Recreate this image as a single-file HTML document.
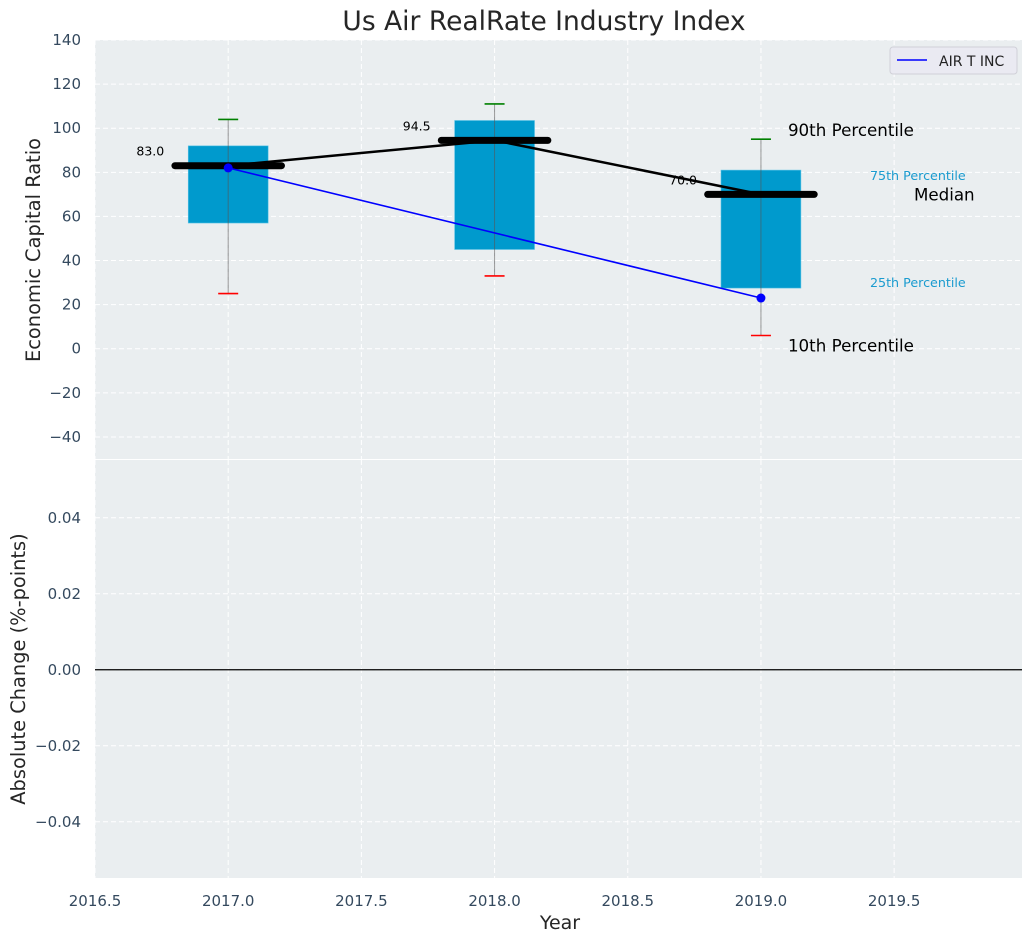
<!DOCTYPE html>
<html><head><meta charset="utf-8"><style>
html,body{margin:0;padding:0;background:#fff;}
svg{display:block;font-family:"DejaVu Sans","Liberation Sans",sans-serif;}
</style></head><body>
<svg id="chart" width="1034" height="942" xmlns="http://www.w3.org/2000/svg"></svg>
<script>
const years = [2017, 2018, 2019];
const p10 = [25, 33, 6];
const q1 = [57, 45, 27.5];
const median = [83, 94.5, 70];
const q3 = [92, 103.5, 81];
const p90 = [104, 111, 95];
const companyYears = [2017, 2019];
const companyValues = [82, 23];
const topTicks = [-40, -20, 0, 20, 40, 60, 80, 100, 120, 140];
const bottomTicks = [-0.04, -0.02, 0.00, 0.02, 0.04];
const xTicks = [2016.5, 2017.0, 2017.5, 2018.0, 2018.5, 2019.0, 2019.5];

const L = 95, R = 1022, T1 = 40, B1 = 459, T2 = 460, B2 = 878;
const X0 = 2016.5, X1 = 2019.98;
const Y1min = -50, Y1max = 140, Y2min = -0.0548, Y2max = 0.0552;
const xs = v => L + (v - X0) / (X1 - X0) * (R - L);
const y1 = v => T1 + (Y1max - v) / (Y1max - Y1min) * (B1 - T1);
const y2 = v => T2 + (Y2max - v) / (Y2max - Y2min) * (B2 - T2);
const svg = document.getElementById('chart');
const NS = 'http://www.w3.org/2000/svg';
function mk(tag, attrs, parent) {
  const e = document.createElementNS(NS, tag);
  for (const k in attrs) e.setAttribute(k, attrs[k]);
  (parent || svg).appendChild(e);
  return e;
}
function txt(s, attrs) { const e = mk('text', attrs); e.textContent = s; return e; }

let e;
e = mk('rect', {x: L, y: T1, width: R - L, height: B1 - T1, fill: '#eaeef0'});


e = mk('rect', {x: L, y: T2, width: R - L, height: B2 - T2, fill: '#eaeef0'});



xTicks.forEach(t => {
  [[T1, B1], [T2, B2]].forEach(([a, b]) => {
    e = mk('line', {x1: xs(t), x2: xs(t), y1: a, y2: b, stroke: '#fff', 'stroke-dasharray': '5,3', 'stroke-width': 1});
    
    
  });
  e = txt(t.toFixed(1), {x: xs(t), y: 906, 'text-anchor': 'middle', 'font-size': 15, fill: '#34495e'});
  
  
});
topTicks.forEach(t => {
  e = mk('line', {x1: L, x2: R, y1: y1(t), y2: y1(t), stroke: '#fff', 'stroke-dasharray': '5,3', 'stroke-width': 1});
  
  
  e = txt(t < 0 ? '\u2212' + Math.abs(t) : String(t), {x: 81, y: y1(t) + 5, 'text-anchor': 'end', 'font-size': 15, fill: '#34495e'});
  
  
});
bottomTicks.forEach(t => {
  e = mk('line', {x1: L, x2: R, y1: y2(t), y2: y2(t), stroke: '#fff', 'stroke-dasharray': '5,3', 'stroke-width': 1});
  
  
  const s = (t < 0 ? '\u2212' : '') + Math.abs(t).toFixed(2);
  e = txt(s, {x: 81, y: y2(t) + 5, 'text-anchor': 'end', 'font-size': 15, fill: '#34495e'});
  
  
});
e = mk('line', {x1: L, x2: R, y1: y2(0), y2: y2(0), stroke: '#000', 'stroke-width': 1.2});



years.forEach((yr, i) => {
  const cx = xs(yr), bw = 0.3 * (R - L) / (X1 - X0);
  e = mk('rect', {x: cx - bw / 2, y: y1(q3[i]), width: bw, height: y1(q1[i]) - y1(q3[i]), fill: '#009ACD', stroke: '#5cc4e6', 'stroke-width': 0.6});
  
  
  e = mk('line', {x1: cx, x2: cx, y1: y1(p90[i]), y2: y1(p10[i]), stroke: '#555', 'stroke-opacity': 0.6, 'stroke-width': 1});
  
  
  e = mk('line', {x1: cx - 10, x2: cx + 10, y1: y1(p90[i]), y2: y1(p90[i]), stroke: 'green', 'stroke-width': 1.6});
  
  
  e = mk('line', {x1: cx - 10, x2: cx + 10, y1: y1(p10[i]), y2: y1(p10[i]), stroke: 'red', 'stroke-width': 1.6});
  
  
});
e = mk('polyline', {points: years.map((y, i) => xs(y) + ',' + y1(median[i])).join(' '), fill: 'none', stroke: '#000', 'stroke-width': 2.5});


years.forEach((yr, i) => {
  const cx = xs(yr), hw = 0.2 * (R - L) / (X1 - X0);
  e = mk('line', {x1: cx - hw, x2: cx + hw, y1: y1(median[i]), y2: y1(median[i]), stroke: '#000', 'stroke-width': 7, 'stroke-linecap': 'round'});
  
  
  e = txt(median[i].toFixed(1), {x: cx - 0.24 * (R - L) / (X1 - X0), y: y1(median[i]) - 10, 'text-anchor': 'end', 'font-size': 12.5, fill: '#000'});
  
  
});
e = mk('polyline', {points: companyYears.map((y, i) => xs(y) + ',' + y1(companyValues[i])).join(' '), fill: 'none', stroke: '#0000ff', 'stroke-width': 1.6});


companyYears.forEach((y, i) => {
  e = mk('circle', {cx: xs(y), cy: y1(companyValues[i]), r: 4.5, fill: '#0000ff'});
  
  
});

const last = years.length - 1;
const ax = xs(years[last]);
e = txt('90th Percentile', {x: ax + 27, y: y1(p90[last]) - 3, 'font-size': 16.7, fill: '#000'});
 
e = txt('10th Percentile', {x: ax + 27, y: y1(p10[last]) + 16, 'font-size': 16.7, fill: '#000'});
 
e = txt('75th Percentile', {x: ax + 109, y: y1(q3[last]) + 10, 'font-size': 12.7, fill: '#1a9bcf'});
 
e = txt('25th Percentile', {x: ax + 109, y: y1(q1[last]) - 1, 'font-size': 12.7, fill: '#1a9bcf'});
 
e = txt('Median', {x: ax + 153, y: y1(median[last]) + 6, 'font-size': 16.7, fill: '#000'});
 

e = mk('rect', {x: 890, y: 47, width: 127, height: 27, rx: 3, fill: '#eaeaf2', stroke: '#d0d0d8'});
 
e = mk('line', {x1: 897, x2: 927, y1: 60, y2: 60, stroke: '#0000ff', 'stroke-width': 1.6});
 
e = txt('AIR T INC', {x: 939, y: 66, 'font-size': 14, fill: '#222'});
 

e = txt('Us Air RealRate Industry Index', {x: 544, y: 30, 'text-anchor': 'middle', 'font-size': 26.5, fill: '#262626'});
 
e = txt('Economic Capital Ratio', {x: 0, y: 0, transform: 'translate(40,250) rotate(-90)', 'text-anchor': 'middle', 'font-size': 19.4, fill: '#262626'});
 
e = txt('Absolute Change (%-points)', {x: 0, y: 0, transform: 'translate(25,669) rotate(-90)', 'text-anchor': 'middle', 'font-size': 19.4, fill: '#262626'});
 
e = txt('Year', {x: 560, y: 929, 'text-anchor': 'middle', 'font-size': 19, fill: '#262626'});
 
</script>
</body></html>
